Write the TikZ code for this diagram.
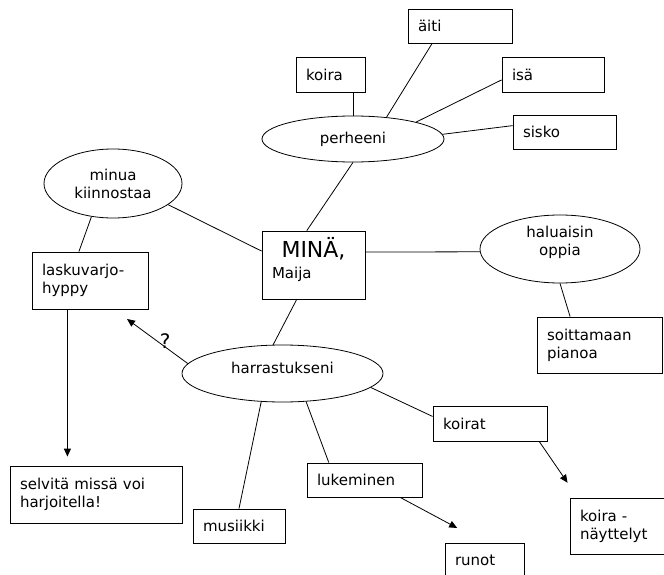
\documentclass[tikz,border=0pt]{standalone}
\usepackage{fontspec}
\setmainfont{DejaVu Sans}
\usetikzlibrary{shapes.geometric,arrows.meta}

\begin{document}
\begin{tikzpicture}[x=1pt, y=-1pt, line width=0.8pt, font=\fontsize{15}{18}\selectfont]

\tikzset{box/.style = {shape=rectangle, draw, align=left, inner xsep=10pt, inner ysep=0pt}}
\tikzset{blob/.style = {shape=ellipse, draw, align=center, inner sep=0pt}}
\tikzset{edge/.style = {-{Triangle[length=8pt, width=7pt]}}}

\useasboundingbox (0,0) rectangle (664,575);
\clip (0,0) rectangle (664,575);

\node[blob, minimum width=182pt, minimum height=46pt] (perh) at (353,139) {perheeni};
\node[box, text width=84pt, minimum height=34pt] (aiti) at (460,26) {äiti};
\node[box, text width=49pt, minimum height=35pt] (koira) at (330.5,74.5) {koira};
\node[box, text width=82pt, minimum height=35pt] (isa) at (553,74.5) {isä};
\node[box, text width=83pt, minimum height=34pt] (sisko) at (564.5,132) {sisko};

\node[blob, minimum width=138pt, minimum height=69pt] (kiin) at (113,183.5) {minua\\kiinnostaa};
\node[box, text width=96pt, minimum height=57pt] (lasku) at (90,280.5) {laskuvarjo-\\hyppy};
\node[box, text width=152pt, minimum height=57pt] (selv) at (96,494.5) {selvitä missä voi\\harjoitella!};

\node[box, text width=83pt, text height=26pt, text depth=42pt] (mina) at (313.5,265)
  {\hfill{\fontsize{22}{26}\selectfont MINÄ,}\hfill\null\\[3pt]Maija};

\node[blob, minimum width=160pt, minimum height=68pt] (halu) at (560,249)
  {\raisebox{0pt}[\height][\dimexpr\depth+12pt\relax]{\begin{tabular}{@{}c@{}}haluaisin\\oppia\end{tabular}}};
\node[box, text width=105pt, minimum height=56pt] (soitt) at (599.5,345) {soittamaan\\pianoa};

\node[blob, minimum width=201pt, minimum height=57pt, text depth=11pt] (harr) at (282.5,373.5) {harrastukseni};
\node[box, text width=72pt, minimum height=34pt] (musi) at (239,526) {musiikki};
\node[box, text width=95pt, minimum height=34pt] (luke) at (364.5,480) {lukeminen};
\node[box, text width=59pt, minimum height=34pt] (runot) at (484.5,560) {runot};
\node[box, text width=94pt, minimum height=35pt] (koirat) at (490,423.5) {koirat};
\node[box, text width=90pt, minimum height=56pt] (nayt) at (625,526) {koira -\\näyttelyt};

\coordinate (kysy) at (127,319);

\draw (perh.north) -- (perh.north |- koira.south);
\draw (perh.33) -- (aiti.212);
\draw (perh.15) -- (isa.186);
\draw (perh.3) -- (sisko.173);
\draw (perh.south) -- (mina.101);
\draw (kiin.-21) -- (mina.165);
\draw (kiin.237) -- (lasku.111);
\draw (mina.14) -- (halu.182);
\draw (halu.south) -- (soitt.136);
\draw (mina.244) -- (harr.108);
\draw[edge] (harr.174) -- node[right, inner sep=2pt, font=\fontsize{20}{22}\selectfont] {?} (kysy);
\draw[edge, shorten >=9pt] (lasku.232) -- (lasku.232 |- selv.north);
\draw (harr.233) -- (musi.north);
\draw (harr.-50) -- (luke.154);
\draw (harr.-9) -- (koirat.173);
\draw[edge, shorten >=18pt] (koirat.-20) -- (nayt.149);
\draw[edge, shorten >=31pt] (luke.-26) -- (runot.north);

\end{tikzpicture}
\end{document}
